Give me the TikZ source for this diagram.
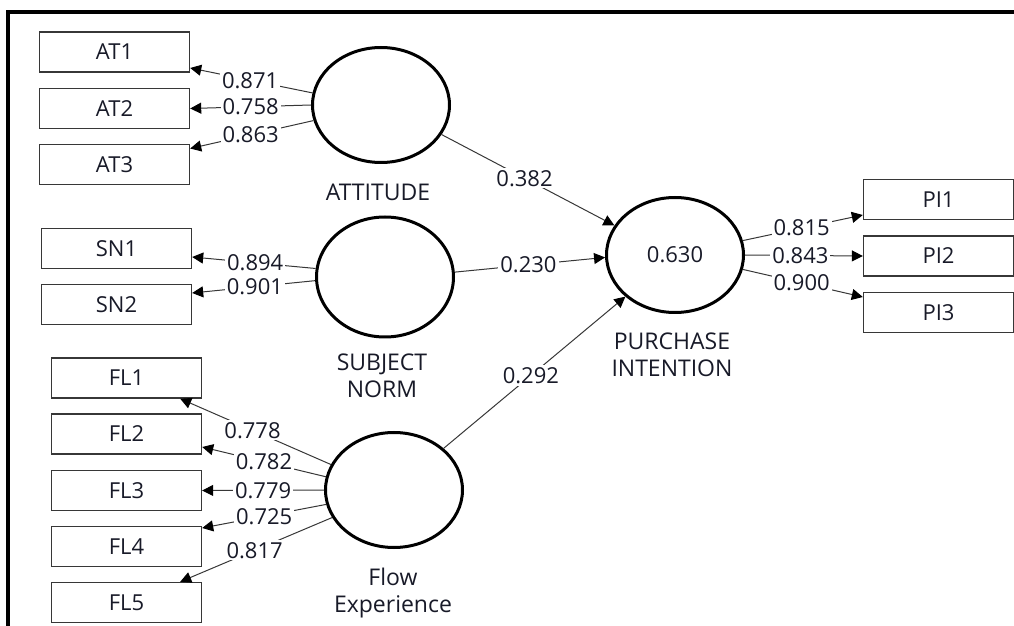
\documentclass[tikz,border=0pt]{standalone}
\usepackage{fontspec}
\setmainfont{Open Sans}
\usetikzlibrary{shapes.geometric,arrows.meta,calc}
\definecolor{ink}{RGB}{24,26,40}
\definecolor{edge}{RGB}{55,55,55}
\begin{document}
\begin{tikzpicture}[x=0.5pt,y=-0.5pt,
  every node/.style={font=\fontsize{11}{13.5}\selectfont, text=ink},
  indicator/.style={draw=edge, line width=0.7pt, minimum width=75pt, minimum height=20pt, inner sep=0pt},
  construct/.style={ellipse, draw=black, line width=1.5pt, minimum width=68.5pt, minimum height=57.5pt, inner sep=0pt},
  caption/.style={align=center, inner sep=0pt, font=\fontsize{11.5}{13.5}\selectfont},
  link/.style={draw=edge, line width=0.5pt, -{Triangle[length=5.5pt,width=5.5pt,color=black]}},
  weight/.style={fill=white, inner sep=1pt}
]
\useasboundingbox (0,0) rectangle (1014,626);

% frame
\draw[line width=2pt] (1014,12) -- (8,12) -- (8,626);

% latent constructs
\node[construct] (att) at (381,105) {};
\node[construct, minimum height=60pt] (sn) at (385,277) {};
\node[construct] (flow) at (394,490) {};
\node[construct] (pi) at (675,255) {0.630};

\node[caption] (attcap) at (378,192) {ATTITUDE};
\node[caption] (sncap) at (382,376) {SUBJECT\\NORM};
\node[caption] (flowcap) at (393,593) {Flow\\Experience};
\node[caption] (picap) at (672,355) {PURCHASE\\INTENTION};

% indicators
\node[indicator] (at1) at (114.5,52) {AT1};
\node[indicator] (at2) at (114.5,108.5) {AT2};
\node[indicator] (at3) at (114.5,164.5) {AT3};
\node[indicator] (sn1) at (116.5,248.5) {SN1};
\node[indicator] (sn2) at (116.5,304.5) {SN2};
\node[indicator] (fl1) at (126.5,378) {FL1};
\node[indicator] (fl2) at (126.5,434) {FL2};
\node[indicator] (fl3) at (126.5,490.5) {FL3};
\node[indicator] (fl4) at (126.5,546.5) {FL4};
\node[indicator] (fl5) at (126.5,602.5) {FL5};
\node[indicator] (pi1) at (938.5,199.5) {PI1};
\node[indicator] (pi2) at (938.5,256) {PI2};
\node[indicator] (pi3) at (938.5,312.5) {PI3};

% outer loadings
\draw[link] (att.170) -- node[weight, pos=0.51] {0.871} ($(at1.east)+(0,16)$);
\draw[link] (att.180) -- node[weight, pos=0.5] {0.758} (at2.east);
\draw[link] (att.193) -- node[weight, pos=0.51] {0.863} ($(at3.east)+(0,-16)$);

\draw[link] (sn.173) -- node[weight, pos=0.49] {0.894} ($(sn1.east)+(0,8.5)$);
\draw[link] (sn.183) -- node[weight, pos=0.49] {0.901} ($(sn2.east)+(0,-11.5)$);

\draw[link] (flow.158) -- node[weight, pos=0.52] {0.778} ($(fl1.south east)+(-22,0)$);
\draw[link] (flow.169) -- node[weight, pos=0.5] {0.782} ($(fl2.east)+(0,13)$);
\draw[link] (flow.180) -- node[weight, pos=0.5] {0.779} (fl3.east);
\draw[link] (flow.192) -- node[weight, pos=0.5] {0.725} ($(fl4.east)+(0,-18.5)$);
\draw[link] (flow.204) -- node[weight, pos=0.51] {0.817} ($(fl5.north east)+(-22,0)$);

\draw[link] (pi.12) -- node[weight, pos=0.49] {0.815} ($(pi1.west)+(0,15.5)$);
\draw[link] (pi.0) -- node[weight, pos=0.47] {0.843} (pi2.west);
\draw[link] (pi.348) -- node[weight, pos=0.49] {0.900} ($(pi3.west)+(0,-15.5)$);

% path coefficients
\draw[link] (att.-26) -- node[weight, pos=0.48] {0.382} (pi.154);
\draw[link] (sn.4) -- node[weight, pos=0.49] {0.230} (pi.182);
\draw[link] (flow.40) -- node[weight, pos=0.48] {0.292} (pi.220);
\end{tikzpicture}
\end{document}
